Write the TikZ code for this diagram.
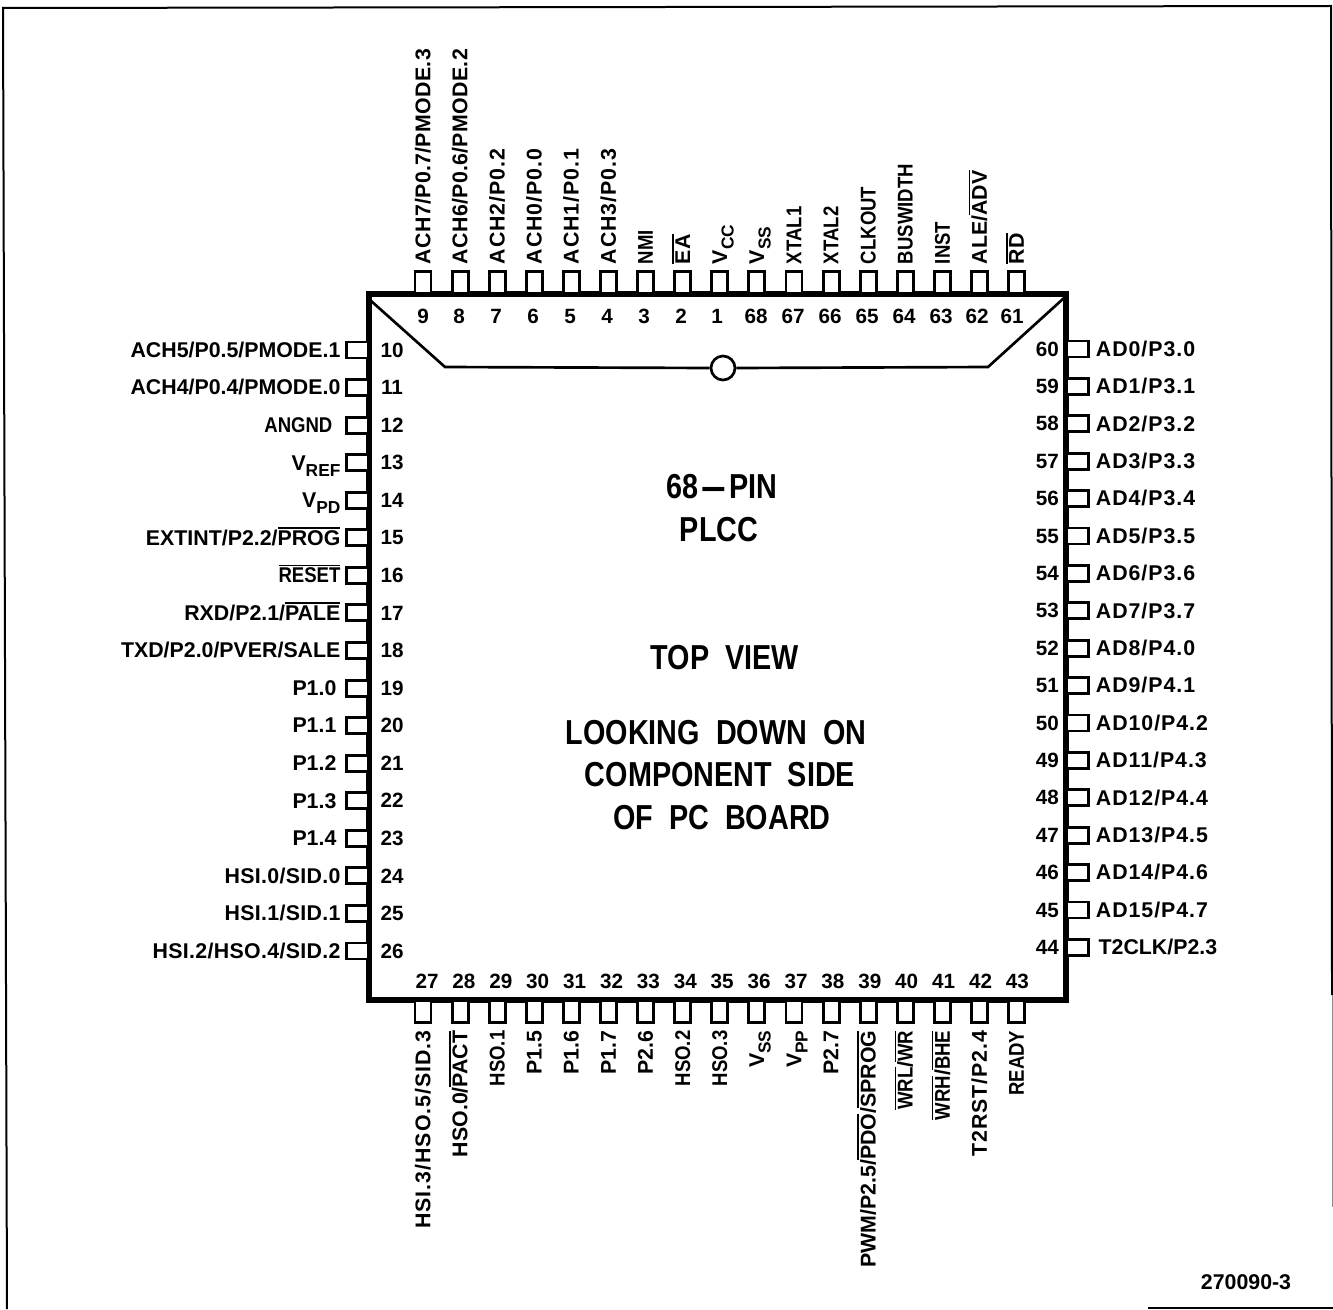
\documentclass[tikz,border=0pt]{standalone}
\usepackage{graphicx}
\usepackage{fontspec}
\setmainfont{Liberation Sans}
\newfontfamily\bigfont{Liberation Sans}[WordSpace=2.0]
\newfontfamily\widefont{Liberation Sans}[LetterSpace=4.5]
\newfontfamily\midfont{Liberation Sans}[LetterSpace=1.5]
\newcommand\ovl[1]{\leavevmode\vbox{\hrule height 1.1pt\kern 1.3pt\hbox{#1}}}
\newcommand\sbs[1]{\raisebox{-0.3em}{\fontsize{13}{13}\selectfont\bfseries #1}}
\newcommand\nrw[1]{\scalebox{0.87}[1]{#1}}
\newcommand\wdt[1]{{\widefont\bfseries #1}}
\tikzset{
  pinh/.style={draw=black,line width=2.2pt,fill=white,minimum width=16pt,minimum height=12pt,inner sep=0pt,outer sep=0pt},
  pinv/.style={draw=black,line width=2.2pt,fill=white,minimum width=12pt,minimum height=16pt,inner sep=0pt,outer sep=0pt},
  pinnum/.style={font=\fontsize{15.5}{16}\selectfont\bfseries,inner sep=0pt},
  pinlab/.style={font=\fontsize{16}{17}\selectfont\bfseries,inner sep=0pt},
  bigtext/.style={font=\bigfont\fontsize{26}{27}\selectfont\bfseries,inner sep=0pt,xscale=0.83},
  chipline/.style={line width=2pt,line join=miter},
}
\newcommand\lft[2]{\node[pinlab,anchor=base east] (l#1) at ([xshift=-4.5pt,yshift=-5.5pt]p#1.west) {#2};}
\newcommand\rgt[2]{\node[pinlab,anchor=base west] (l#1) at ([xshift=5.5pt,yshift=-5.5pt]p#1.east) {\wdt{#2}};}
\newcommand\tpl[2]{\node[pinlab,rotate=90,anchor=base west] (l#1) at ([xshift=5.5pt,yshift=5.5pt]p#1.north) {#2};}
\newcommand\btl[2]{\node[pinlab,rotate=90,anchor=base east] (l#1) at ([xshift=5.5pt,yshift=-6pt]p#1.south) {#2};}
\begin{document}
\begin{tikzpicture}[x=0.75pt,y=-0.75pt]
\useasboundingbox (0,0) rectangle (1333,1309);
\coordinate (fa) at (7,1309);
\coordinate (fb) at (3,8);
\coordinate (fc) at (1331,6);
\coordinate (fd) at (1332,995);
\coordinate (fg) at (1332,1207);
\coordinate (fe) at (1148,1308);
\coordinate (ff) at (1333,1308);
\draw[line width=1.5pt] (fa) -- (fb) -- (fc) -- (fd);
\draw[line width=0.7pt,black!45] (fd) -- (fg);
\draw[line width=1.2pt] (fe) -- (ff);
% chip body
\node[draw=black,line width=4.5pt,minimum width=522.75pt,minimum height=529.5pt,inner sep=0pt] (chip) at (717.5,647) {};
% pins
\foreach \n [count=\i from 0] in {9,8,7,6,5,4,3,2,1,68,67,66,65,64,63,62,61}{
  \node[pinv,anchor=south] (p\n) at ({423+\i*37.1},293) {};
}
\foreach \n [count=\i from 0] in {10,11,12,13,14,15,16,17,18,19,20,21,22,23,24,25,26}{
  \node[pinh,anchor=east] (p\n) at (368,{350+\i*37.56}) {};
  \node[pinnum] (n\n) at (392,{350+\i*37.56}) {\n};
}
\foreach \n [count=\i from 0] in {60,59,58,57,56,55,54,53,52,51,50,49,48,47,46,45,44}{
  \node[pinh,anchor=west] (p\n) at (1067,{349+\i*37.4}) {};
  \node[pinnum,anchor=east] (n\n) at (1059,{349+\i*37.4}) {\n};
}
\foreach \n [count=\i from 0] in {27,28,29,30,31,32,33,34,35,36,37,38,39,40,41,42,43}{
  \node[pinv,anchor=north] (p\n) at ({423+\i*37.1},1001) {};
  \node[pinnum] (n\n) at ({427+\i*36.9},981) {\n};
}
\foreach \n/\x in {9/423,8/459,7/496,6/533,5/570,4/607,3/644,2/681,1/717,68/756,67/793,66/830,65/867,64/904,63/941,62/977,61/1012}{
  \node[pinnum] (n\n) at (\x,316) {\n};
}
% notch
\coordinate (na) at (370,300);
\coordinate (nb) at (445,367);
\coordinate (nc) at (988,367);
\coordinate (nd) at (1064,298);
\node[circle,draw=black,line width=2pt,minimum size=18pt,inner sep=0pt] (dot) at (723,368) {};
\draw[chipline] (na) -- (nb) -- (dot.west);
\draw[chipline] (dot.east) -- (nc) -- (nd);
% centre text
\node[bigtext] (t1) at (722,487) {68\kern1pt\scalebox{3}[1]{-}\kern1pt PIN};
\node[bigtext] (t2) at (719,530) {PLCC};
\node[bigtext] (t3) at (725,658) {TOP VIEW};
\node[bigtext] (t4) at (716,733) {LOOKING DOWN ON};
\node[bigtext] (t5) at (720,775) {COMPONENT SIDE};
\node[bigtext] (t6) at (722,818) {OF PC BOARD};
\node[pinlab] (t7) at (1246,1282) {270090-3};
% left labels
\lft{10}{ACH5/P0.5/PMODE.1}
\lft{11}{ACH4/P0.4/PMODE.0}
\lft{12}{\nrw{ANGND}\kern6pt}
\lft{13}{V\sbs{REF}}
\lft{14}{V\sbs{PD}}
\lft{15}{EXTINT/P2.2/\ovl{PROG}}
\lft{16}{\ovl{\nrw{RESET}}}
\lft{17}{RXD/P2.1/\ovl{PALE}}
\lft{18}{TXD/P2.0/PVER/SALE}
\lft{19}{P1.0\kern3pt}
\lft{20}{P1.1\kern3pt}
\lft{21}{P1.2\kern3pt}
\lft{22}{P1.3\kern3pt}
\lft{23}{P1.4\kern3pt}
\lft{24}{{\midfont\bfseries HSI.0/SID.0}}
\lft{25}{{\midfont\bfseries HSI.1/SID.1}}
\lft{26}{{\midfont\bfseries HSI.2/HSO.4/SID.2}}
% right labels
\rgt{60}{AD0/P3.0}
\rgt{59}{AD1/P3.1}
\rgt{58}{AD2/P3.2}
\rgt{57}{AD3/P3.3}
\rgt{56}{AD4/P3.4}
\rgt{55}{AD5/P3.5}
\rgt{54}{AD6/P3.6}
\rgt{53}{AD7/P3.7}
\rgt{52}{AD8/P4.0}
\rgt{51}{AD9/P4.1}
\rgt{50}{AD10/P4.2}
\rgt{49}{AD11/P4.3}
\rgt{48}{AD12/P4.4}
\rgt{47}{AD13/P4.5}
\rgt{46}{AD14/P4.6}
\rgt{45}{AD15/P4.7}
\node[pinlab,anchor=base west] (l44) at ([xshift=7.5pt,yshift=-5.5pt]p44.east) {T2CLK/P2.3};
% top labels
\tpl{9}{{\midfont\bfseries ACH7/P0.7/PMODE.3}}
\tpl{8}{{\midfont\bfseries ACH6/P0.6/PMODE.2}}
\tpl{7}{\wdt{ACH2/P0.2}}
\tpl{6}{\wdt{ACH0/P0.0}}
\tpl{5}{\wdt{ACH1/P0.1}}
\tpl{4}{\wdt{ACH3/P0.3}}
\tpl{3}{\nrw{NMI}}
\tpl{2}{\ovl{EA}}
\tpl{1}{V\sbs{CC}}
\tpl{68}{V\sbs{SS}}
\tpl{67}{\nrw{XTAL1}}
\tpl{66}{\nrw{XTAL2}}
\tpl{65}{\nrw{CLKOUT}}
\tpl{64}{\nrw{BUSWIDTH}}
\tpl{63}{\nrw{INST}}
\tpl{62}{ALE/\ovl{ADV}}
\tpl{61}{\ovl{RD}}
% bottom labels
\btl{27}{\wdt{HSI.3/HSO.5/SID.3}}
\btl{28}{HSO.0/\ovl{PACT}}
\btl{29}{\nrw{HSO.1}}
\btl{30}{P1.5}
\btl{31}{P1.6}
\btl{32}{P1.7}
\btl{33}{P2.6}
\btl{34}{\nrw{HSO.2}}
\btl{35}{\nrw{HSO.3}}
\btl{36}{V\sbs{SS}}
\btl{37}{V\sbs{PP}}
\btl{38}{P2.7}
\btl{39}{PWM/P2.5/\ovl{PDO}/\ovl{SPROG}}
\btl{40}{\ovl{\nrw{WRL}}/\ovl{\nrw{WR}}}
\btl{41}{\ovl{\nrw{WRH}}/\ovl{\nrw{BHE}}}
\btl{42}{\wdt{T2RST/P2.4}}
\btl{43}{\nrw{READY}}
\end{tikzpicture}
\end{document}
